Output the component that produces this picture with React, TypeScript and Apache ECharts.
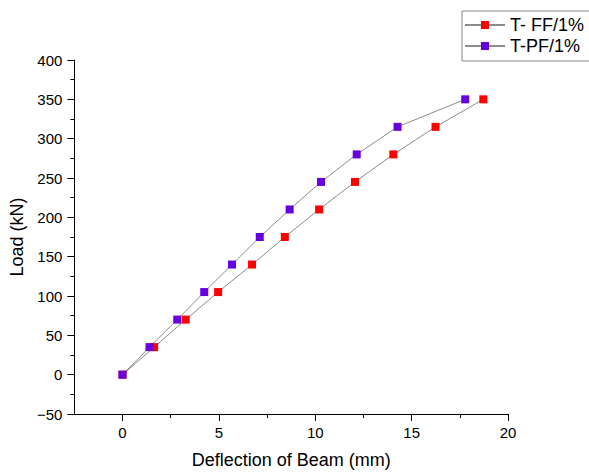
import React, { useEffect, useRef } from "react";
import * as echarts from "echarts";

const loads = [0, 35, 70, 105, 140, 175, 210, 245, 280, 315, 350];
const ffDeflection = [0, 1.64, 3.28, 4.96, 6.72, 8.42, 10.2, 12.06, 14.05, 16.24, 18.72];
const pfDeflection = [0, 1.4, 2.84, 4.24, 5.68, 7.12, 8.67, 10.3, 12.15, 14.27, 17.78];
const seriesNames = ["T- FF/1%", "T-PF/1%"];
const xMajorTicks = [0, 5, 10, 15, 20];
const xMinorTicks = [2.5, 7.5, 12.5, 17.5];

const FONT = "Liberation Sans, Arial, sans-serif";

export default function App() {
  const ref = useRef<HTMLDivElement>(null);
  useEffect(() => {
    if (!ref.current) return;
    const chart = echarts.init(ref.current, null, { renderer: "svg" });
    const ff = ffDeflection.map((x, i) => [x, loads[i]]);
    const pf = pfDeflection.map((x, i) => [x, loads[i]]);
    const axisColor = "#000";
    chart.setOption({
      animation: false,
      backgroundColor: "#fff",
      textStyle: { fontFamily: FONT },
      grid: { left: 71, top: 60, width: 437, height: 356, containLabel: false },
      legend: {
        left: 462,
        top: 11,
        orient: "vertical",
        itemWidth: 40,
        itemHeight: 10,
        itemGap: 3,
        padding: [5, 40, 6, 2],
        borderColor: "#888",
        borderWidth: 1,
        textStyle: { fontSize: 18, color: "#000", fontFamily: FONT, lineHeight: 18 },
        data: seriesNames,
      },
      xAxis: [
        {
          type: "value",
          min: -2.5,
          max: 20,
          name: "Deflection of Beam (mm)",
          nameLocation: "middle",
          nameGap: 37,
          nameTextStyle: { fontSize: 18, color: "#000", fontFamily: FONT },
          axisLine: { onZero: false, lineStyle: { color: axisColor, width: 1 } },
          axisTick: { show: true, length: 7, customValues: xMajorTicks, lineStyle: { color: axisColor } },
          axisLabel: { customValues: xMajorTicks, fontSize: 15, color: "#000", margin: 11, fontFamily: FONT },
          splitLine: { show: false },
        },
        {
          type: "value",
          min: -2.5,
          max: 20,
          position: "bottom",
          axisLine: { show: false, onZero: false },
          axisTick: { show: true, length: 4, customValues: xMinorTicks, lineStyle: { color: axisColor } },
          axisLabel: { show: false },
          splitLine: { show: false },
        },
      ],
      yAxis: {
        type: "value",
        min: -50,
        max: 400,
        interval: 50,
        name: "Load (kN)",
        nameLocation: "middle",
        nameGap: 42,
        nameTextStyle: { fontSize: 18, color: "#000", fontFamily: FONT },
        axisLine: { show: true, onZero: false, lineStyle: { color: axisColor, width: 1 } },
        axisTick: { show: true, length: 7, lineStyle: { color: axisColor } },
        minorTick: { show: true, splitNumber: 2, length: 4, lineStyle: { color: axisColor } },
        axisLabel: {
          fontSize: 15,
          color: "#000",
          margin: 12,
          fontFamily: FONT,
          formatter: (v: number) => String(v).replace("-", "\u2212"),
        },
        splitLine: { show: false },
      },
      series: [
        {
          name: seriesNames[0],
          type: "line",
          data: ff,
          symbol: "rect",
          symbolSize: 8,
          itemStyle: { color: "#ff0000" },
          lineStyle: { color: "#8c8c8c", width: 1 },
        },
        {
          name: seriesNames[1],
          type: "line",
          data: pf,
          symbol: "rect",
          symbolSize: 8,
          itemStyle: { color: "#6600dd" },
          lineStyle: { color: "#8c8c8c", width: 1 },
        },
      ],
    });
    return () => chart.dispose();
  }, []);
  return <div ref={ref} style={{ width: 589, height: 474, position: "absolute", left: 0, top: 0 }} />;
}
